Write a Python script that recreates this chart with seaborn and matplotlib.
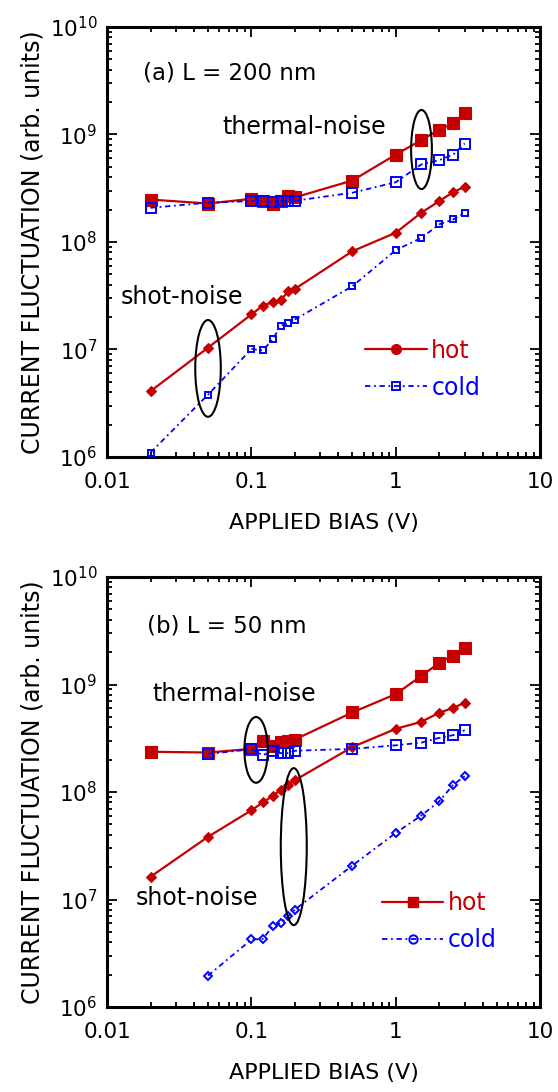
import numpy as np
import pandas as pd
import matplotlib
matplotlib.use("Agg")
import matplotlib.pyplot as plt
import seaborn as sns
from matplotlib.patches import Ellipse
from matplotlib.lines import Line2D
from matplotlib.ticker import FixedLocator, FixedFormatter, LogLocator, NullFormatter

sns.set_style("ticks")
plt.rcParams["font.family"] = ["DejaVu Sans"]
plt.rcParams["mathtext.fontset"] = "dejavusans"
plt.rcParams["text.color"] = "black"
plt.rcParams["axes.labelcolor"] = "black"
plt.rcParams["xtick.color"] = "black"
plt.rcParams["ytick.color"] = "black"
plt.rcParams["xtick.labelcolor"] = "black"
plt.rcParams["ytick.labelcolor"] = "black"

# ---------------- data ----------------
bias = [0.02, 0.05, 0.1, 0.12, 0.14, 0.16, 0.18, 0.2, 0.5, 1, 1.5, 2, 2.5, 3]
bias_from_005 = [0.05, 0.1, 0.12, 0.14, 0.16, 0.18, 0.2, 0.5, 1, 1.5, 2, 2.5, 3]

# (a) L = 200 nm
a_thermal_hot = [2.48e8, 2.28e8, 2.52e8, 2.4e8, 2.28e8, 2.4e8, 2.67e8, 2.6e8,
                 3.73e8, 6.5e8, 8.85e8, 1.11e9, 1.27e9, 1.59e9]
a_thermal_cold = [2.08e8, 2.32e8, 2.4e8, 2.4e8, 2.35e8, 2.4e8, 2.4e8, 2.42e8,
                  2.87e8, 3.6e8, 5.26e8, 5.77e8, 6.5e8, 8.24e8]
a_shot_hot = [4.1e6, 1.04e7, 2.12e7, 2.56e7, 2.75e7, 2.88e7, 3.49e7, 3.66e7,
              8.2e7, 1.22e8, 1.87e8, 2.4e8, 2.91e8, 3.26e8]
a_shot_cold = [1.1e6, 3.8e6, 1.01e7, 9.8e6, 1.24e7, 1.67e7, 1.75e7, 1.9e7,
               3.88e7, 8.4e7, 1.09e8, 1.46e8, 1.62e8, 1.87e8]

# (b) L = 50 nm
b_thermal_hot = [2.37e8, 2.33e8, 2.52e8, 2.97e8, 2.67e8, 2.93e8, 2.97e8, 3.08e8,
                 5.5e8, 8.15e8, 1.2e9, 1.59e9, 1.86e9, 2.19e9]
b_thermal_cold = [2.26e8, 2.5e8, 2.2e8, 2.4e8, 2.3e8, 2.3e8, 2.42e8,
                  2.52e8, 2.72e8, 2.88e8, 3.19e8, 3.38e8, 3.76e8]
b_shot_hot = [1.63e7, 3.83e7, 6.77e7, 8.0e7, 9.2e7, 1.05e8, 1.17e8, 1.29e8,
              2.62e8, 3.87e8, 4.5e8, 5.46e8, 6.07e8, 6.76e8]
b_shot_cold = [1.96e6, 4.25e6, 4.3e6, 5.65e6, 6.07e6, 7.0e6, 8.07e6,
               2.07e7, 4.17e7, 6.04e7, 8.2e7, 1.17e8, 1.4e8]

x_ticks = [0.01, 0.1, 1, 10]
x_tick_labels = ["0.01", "0.1", "1", "10"]
y_ticks = [1e6, 1e7, 1e8, 1e9, 1e10]
y_tick_labels = ["$10^{6}$", "$10^{7}$", "$10^{8}$", "$10^{9}$", "$10^{10}$"]

panel_titles = ["(a) L = 200 nm", "(b) L = 50 nm"]
legend_labels = ["hot", "cold"]

RED = "#c40000"
BLUE = "#0000ff"
COLD_LS = (0, (3, 2, 1, 2))

fig = plt.figure(figsize=(5.58, 10.92), dpi=100)
ax_a = fig.add_axes([0.192, 0.5815, 0.776, 0.3938])
ax_b = fig.add_axes([0.192, 0.0778, 0.776, 0.3938])


def style_axes(ax):
    ax.set_xscale("log")
    ax.set_yscale("log")
    ax.set_xlim(0.01, 10)
    ax.set_ylim(1e6, 1e10)
    ax.xaxis.set_major_locator(FixedLocator(x_ticks))
    ax.xaxis.set_major_formatter(FixedFormatter(x_tick_labels))
    ax.yaxis.set_major_locator(FixedLocator(y_ticks))
    ax.yaxis.set_major_formatter(FixedFormatter(y_tick_labels))
    ax.xaxis.set_minor_locator(LogLocator(base=10, subs=np.arange(2, 10)))
    ax.yaxis.set_minor_locator(LogLocator(base=10, subs=np.arange(2, 10)))
    ax.xaxis.set_minor_formatter(NullFormatter())
    ax.yaxis.set_minor_formatter(NullFormatter())
    ax.tick_params(which="both", direction="in", top=True, right=True,
                   colors="black", labelcolor="black", width=1.3)
    ax.tick_params(which="major", length=7)
    ax.tick_params(which="minor", length=3.5)
    ax.tick_params(axis="x", which="major", labelsize=15.5, pad=11)
    ax.tick_params(axis="y", which="major", labelsize=15.5, pad=7)
    for sp in ax.spines.values():
        sp.set_visible(True)
        sp.set_linewidth(2.2)
        sp.set_color("black")
    ax.set_xlabel("APPLIED BIAS (V)", fontsize=16, labelpad=15, color="black")
    ax.set_ylabel("CURRENT FLUCTUATION (arb. units)", fontsize=17, labelpad=4,
                  color="black")
    ax.grid(False)


def draw(ax, x, y, color, marker, ms, filled, ls, lw, z):
    df = pd.DataFrame({"x": x, "y": y})
    sns.lineplot(data=df, x="x", y="y", ax=ax, color=color, marker=marker,
                 markersize=ms,
                 markerfacecolor=color if filled else "none",
                 markeredgecolor=color,
                 markeredgewidth=1.4 if not filled else 0.8,
                 linestyle=ls, linewidth=lw, estimator=None, sort=False,
                 zorder=z)


for ax in (ax_a, ax_b):
    ax.set_xscale("log")
    ax.set_yscale("log")

# panel (a)
draw(ax_a, bias, a_thermal_hot, RED, "s", 8, True, "-", 1.6, 3)
draw(ax_a, bias, a_thermal_cold, BLUE, "s", 7.5, False, COLD_LS, 1.3, 4)
draw(ax_a, bias, a_shot_hot, RED, "D", 5.5, True, "-", 1.6, 3)
draw(ax_a, bias, a_shot_cold, BLUE, "s", 5, False, COLD_LS, 1.3, 4)

# panel (b)
draw(ax_b, bias, b_thermal_hot, RED, "s", 8, True, "-", 1.6, 3)
draw(ax_b, bias_from_005, b_thermal_cold, BLUE, "s", 7.5, False, COLD_LS, 1.3, 4)
draw(ax_b, bias, b_shot_hot, RED, "D", 5.5, True, "-", 1.6, 3)
draw(ax_b, bias_from_005, b_shot_cold, BLUE, "D", 4.5, False, COLD_LS, 1.3, 4)

for ax in (ax_a, ax_b):
    style_axes(ax)

# panel labels and annotations
ax_a.text(0.083, 0.893, panel_titles[0], transform=ax_a.transAxes,
          fontsize=16.5, ha="left", va="center", color="black")
ax_a.text(0.265, 0.768, "thermal-noise", transform=ax_a.transAxes,
          fontsize=17, ha="left", va="center", color="black")
ax_a.text(0.032, 0.371, "shot-noise", transform=ax_a.transAxes,
          fontsize=17, ha="left", va="center", color="black")

ax_b.text(0.091, 0.886, panel_titles[1], transform=ax_b.transAxes,
          fontsize=16.5, ha="left", va="center", color="black")
ax_b.text(0.104, 0.728, "thermal-noise", transform=ax_b.transAxes,
          fontsize=17, ha="left", va="center", color="black")
ax_b.text(0.065, 0.253, "shot-noise", transform=ax_b.transAxes,
          fontsize=17, ha="left", va="center", color="black")

ellipses = [
    (ax_a, 0.726, 0.715, 0.048, 0.184),
    (ax_a, 0.233, 0.206, 0.059, 0.225),
    (ax_b, 0.344, 0.598, 0.054, 0.153),
    (ax_b, 0.431, 0.373, 0.060, 0.365),
]
for ax, cx, cy, w, h in ellipses:
    ax.add_patch(Ellipse((cx, cy), w, h, transform=ax.transAxes,
                         fill=False, edgecolor="black", linewidth=1.5, zorder=6))


def make_legend(ax, hot_marker, cold_marker, anchor):
    handles = [
        Line2D([], [], color=RED, marker=hot_marker, markersize=7,
               markerfacecolor=RED, markeredgecolor=RED, linestyle="-", linewidth=1.6),
        Line2D([], [], color=BLUE, marker=cold_marker, markersize=6,
               markerfacecolor="none", markeredgecolor=BLUE, markeredgewidth=1.4,
               linestyle=COLD_LS, linewidth=1.3),
    ]
    leg = ax.legend(handles, legend_labels, loc="upper left", bbox_to_anchor=anchor,
                    bbox_transform=ax.transAxes, frameon=False, fontsize=17,
                    handlelength=2.6, handletextpad=0.2, labelspacing=0.55,
                    borderpad=0, borderaxespad=0)
    for txt, col in zip(leg.get_texts(), [RED, BLUE]):
        txt.set_color(col)


make_legend(ax_a, "o", "s", (0.596, 0.275))
make_legend(ax_b, "s", "o", (0.635, 0.27))

fig.savefig("out.png", dpi=100)
